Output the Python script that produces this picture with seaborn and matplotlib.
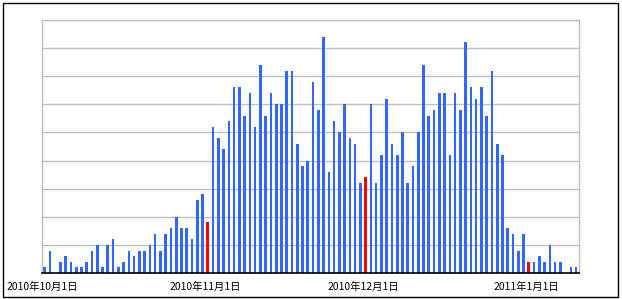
import numpy as np
import pandas as pd
import matplotlib
matplotlib.use("Agg")
import matplotlib.pyplot as plt
import seaborn as sns
from matplotlib.patches import Rectangle

# ---- data (daily counts) ----
start_date = "2010-10-01"
oct_counts = [1, 4, 0, 2, 3, 2, 1, 1, 2, 4, 5, 1, 5, 6, 1, 2, 4, 3, 4, 4,
              5, 7, 4, 7, 8, 10, 8, 8, 6, 13, 14]
nov_counts = [9, 26, 24, 22, 27, 33, 33, 28, 32, 26, 37, 28, 32, 30, 30, 36,
              36, 23, 19, 20, 34, 29, 42, 18, 27, 25, 30, 24, 23, 16]
dec_counts = [17, 30, 16, 21, 31, 23, 21, 25, 16, 19, 25, 37, 28, 29, 32, 32,
              21, 32, 29, 41, 33, 31, 33, 28, 36, 23, 21, 8, 7, 4, 7]
jan_counts = [2, 2, 3, 2, 5, 2, 2, 0, 1, 1]
highlight_dates = ["2010-11-01", "2010-12-01", "2011-01-01"]
tick_dates = ["2010-10-01", "2010-11-01", "2010-12-01", "2011-01-01"]
tick_labels = ["2010年10月1日", "2010年11月1日", "2010年12月1日", "2011年1月1日"]

counts = oct_counts + nov_counts + dec_counts + jan_counts
dates = pd.date_range(start_date, periods=len(counts), freq="D")
day = np.asarray((dates - dates[0]).days, dtype=float)
kind = np.where(dates.isin(pd.to_datetime(highlight_dates)), "first", "normal")
df = pd.DataFrame({"day": day + 0.4, "count": counts, "kind": kind})

tick_pos = [(pd.Timestamp(d) - dates[0]).days for d in tick_dates]

# ---- figure ----
sns.set_style("white")
plt.rcParams["font.family"] = ["Noto Sans CJK JP", "DejaVu Sans"]

W, H = 622, 299
fig = plt.figure(figsize=(W / 100, H / 100), dpi=100)
left, right, top, bottom = 42.3, 579.3, 20.0, 273.0
ax = fig.add_axes([left / W, (H - bottom) / H, (right - left) / W, (bottom - top) / H])

sns.barplot(data=df, x="day", y="count", hue="kind",
            palette={"normal": "#3366ff", "first": "#ff0000"},
            native_scale=True, width=0.5, dodge=False, saturation=1,
            linewidth=0, errorbar=None, legend=False, ax=ax)

ax.set_xlim(-0.05, 102.0)
ax.set_ylim(0, 45)
ax.set_yticks(np.arange(0, 46, 5))
ax.set_yticklabels([])
ax.tick_params(axis="y", length=0)
ax.yaxis.grid(True, color="#c0c0c0", linewidth=1)
ax.xaxis.grid(False)
ax.set_axisbelow(True)

ax.set_xticks(tick_pos)
ax.set_xticklabels(tick_labels, fontsize=7.5, color="black")
ax.tick_params(axis="x", direction="in", length=3, width=1, color="black", pad=6)
ax.set_xlabel("")
ax.set_ylabel("")

for s in ["left", "right", "top"]:
    ax.spines[s].set_color("#c0c0c0")
    ax.spines[s].set_linewidth(1)
ax.spines["bottom"].set_color("black")
ax.spines["bottom"].set_linewidth(1.2)

fig.patches.append(Rectangle((2.5 / W, 2.5 / H), (617.5 - 2.5) / W, (296.5 - 2.5) / H,
                             transform=fig.transFigure, fill=False,
                             edgecolor="black", linewidth=1))

fig.savefig("out.png", dpi=100)
